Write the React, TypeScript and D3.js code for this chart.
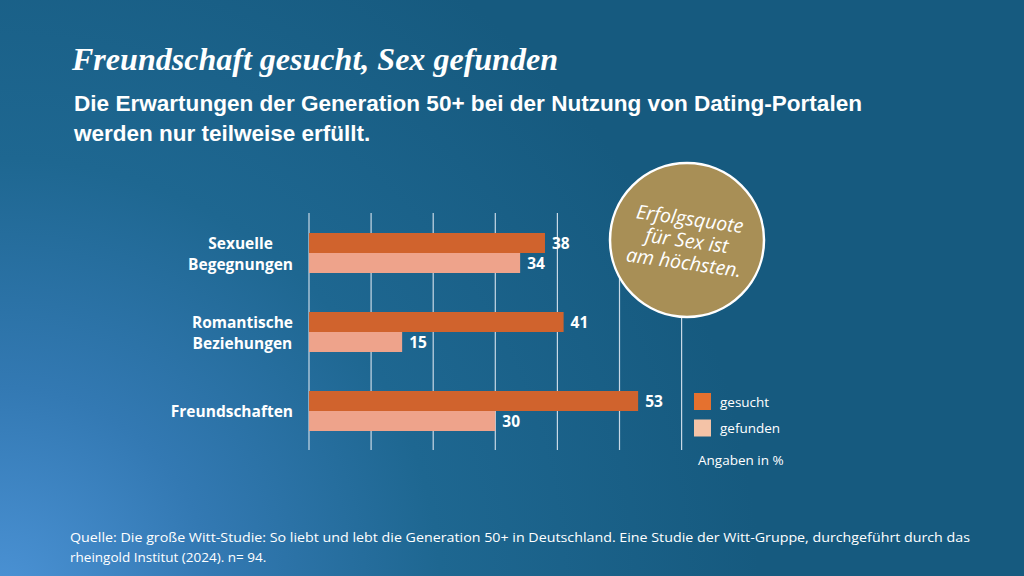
import React, { useEffect, useRef } from "react";
import * as d3 from "d3";

const categories = [["Sexuelle", "Begegnungen"], ["Romantische", "Beziehungen"], ["Freundschaften"]];
const categoryKeys = ["Sexuelle Begegnungen", "Romantische Beziehungen", "Freundschaften"];
const seriesNames = ["gesucht", "gefunden"];
const gesucht = [38, 41, 53];
const gefunden = [34, 15, 30];
const gridTicks = [0, 10, 20, 30, 40, 50, 60];
const title = "Freundschaft gesucht, Sex gefunden";
const subtitleLines = [
  "Die Erwartungen der Generation 50+ bei der Nutzung von Dating-Portalen",
  "werden nur teilweise erfüllt.",
];
const bubbleLines = ["Erfolgsquote", "für Sex ist", "am höchsten."];
const unitNote = "Angaben in %";
const sourceLines = [
  "Quelle: Die große Witt-Studie: So liebt und lebt die Generation 50+ in Deutschland.  Eine Studie der Witt-Gruppe, durchgeführt durch das",
  "rheingold Institut (2024). n= 94.",
];

const COL_GESUCHT = "#D0632D";
const COL_GEFUNDEN = "#EEA38B";
const LEG_GESUCHT = "#E5712F";
const LEG_GEFUNDEN = "#F4C3A7";
const SANS = "'Open Sans', 'Noto Sans', sans-serif";

export default function App() {
  const ref = useRef<SVGSVGElement | null>(null);

  useEffect(() => {
    const svg = d3.select(ref.current);
    svg.selectAll("*").remove();
    const W = 1024, H = 576;

    const defs = svg.append("defs");
    const rg = defs.append("radialGradient").attr("id", "bg").attr("gradientUnits", "userSpaceOnUse")
      .attr("cx", 0).attr("cy", 600).attr("r", 760);
    [[0, "#4C93D6"], [0.28, "#3379B3"], [0.58, "#1E6791"], [1, "#165A7F"]].forEach(([o, c]) =>
      rg.append("stop").attr("offset", o as number).attr("stop-color", c as string));
    svg.append("rect").attr("width", W).attr("height", H).attr("fill", "url(#bg)");

    // Title & subtitle
    svg.append("text").attr("x", 72).attr("y", 70).text(title)
      .attr("fill", "#fff").attr("font-family", "'Liberation Serif', 'DejaVu Serif', serif")
      .attr("font-weight", 700).attr("font-style", "italic").attr("font-size", 31.5)
      .attr("textLength", 486).attr("lengthAdjust", "spacingAndGlyphs");
    subtitleLines.forEach((l, i) => {
      const t = svg.append("text").attr("x", 74).attr("y", 111 + i * 30).text(l)
        .attr("fill", "#fff").attr("font-family", "'Liberation Sans', Arial, sans-serif")
        .attr("font-weight", 700).attr("font-size", 22.5);
      if (i === 0) t.attr("textLength", 788).attr("lengthAdjust", "spacingAndGlyphs");
    });

    const x = d3.scaleLinear().domain([0, 60]).range([309, 681.6]);
    const y = d3.scaleBand<string>().domain(categoryKeys).range([213.5, 450.5]).padding(0);
    const sub = d3.scaleBand<string>().domain(seriesNames).range([0, 40]).padding(0);

    // Gridlines
    svg.append("g").selectAll("line").data(gridTicks).join("line")
      .attr("x1", (d) => x(d)).attr("x2", (d) => x(d))
      .attr("y1", 213).attr("y2", 450)
      .attr("stroke", "#C9D9E6").attr("stroke-width", 1.2);

    const data = categoryKeys.map((k, i) => ({ key: k, lines: categories[i], vals: [gesucht[i], gefunden[i]] }));
    const colors = [COL_GESUCHT, COL_GEFUNDEN];

    const g = svg.append("g");
    data.forEach((d) => {
      const top = (y(d.key) as number) + y.bandwidth() / 2 - 20;
      seriesNames.forEach((s, j) => {
        const by = top + (sub(s) as number);
        g.append("rect").attr("x", x(0)).attr("y", by)
          .attr("width", x(d.vals[j]) - x(0)).attr("height", sub.bandwidth())
          .attr("fill", colors[j]);
        g.append("text").attr("x", x(d.vals[j]) + 7).attr("y", by + sub.bandwidth() / 2)
          .attr("dominant-baseline", "central").text(String(d.vals[j]))
          .attr("fill", "#fff").attr("font-family", SANS).attr("font-weight", 700).attr("font-size", 15.5);
      });
      // Category labels
      const cy = (y(d.key) as number) + y.bandwidth() / 2;
      const lg = svg.append("g");
      const n = d.lines.length;
      const texts = d.lines.map((l, i) =>
        lg.append("text").attr("y", cy + (i - (n - 1) / 2) * 21).attr("dominant-baseline", "central")
          .text(l).attr("fill", "#fff").attr("font-family", SANS).attr("font-weight", 700)
          .attr("font-size", 15.5).attr("text-anchor", "middle"));
      const maxW = Math.max(...texts.map((t) => (t.node() as SVGTextElement).getComputedTextLength()));
      texts.forEach((t) => t.attr("x", 293 - maxW / 2));
    });

    // Bubble
    const bx = 687, by0 = 240;
    svg.append("circle").attr("cx", bx).attr("cy", by0).attr("r", 77)
      .attr("fill", "#A88F56").attr("stroke", "#fff").attr("stroke-width", 2.5);
    const bt = svg.append("g").attr("transform", `translate(${bx},${by0}) rotate(8)`);
    bubbleLines.forEach((l, i) =>
      bt.append("text").attr("x", 0).attr("y", (i - 1) * 22).attr("dominant-baseline", "central")
        .attr("text-anchor", "middle").text(l).attr("fill", "#fff").attr("font-family", SANS)
        .attr("font-style", "italic").attr("font-size", 19.5));

    // Legend
    const legCols = [LEG_GESUCHT, LEG_GEFUNDEN];
    seriesNames.forEach((s, i) => {
      svg.append("rect").attr("x", 694).attr("y", 393 + i * 26.5).attr("width", 17).attr("height", 17)
        .attr("fill", legCols[i]);
      svg.append("text").attr("x", 720).attr("y", 401.5 + i * 26.5).attr("dominant-baseline", "central")
        .text(s).attr("fill", "#fff").attr("font-family", SANS).attr("font-size", 13.5);
    });
    svg.append("text").attr("x", 698).attr("y", 465).text(unitNote)
      .attr("fill", "#fff").attr("font-family", SANS).attr("font-size", 13.5);

    // Source
    sourceLines.forEach((l, i) => {
      const t = svg.append("text").attr("x", 70).attr("y", 542 + i * 20).text(l)
        .attr("fill", "#fff").attr("font-family", SANS).attr("font-size", 13.5);
      if (i === 0) t.attr("textLength", 900).attr("lengthAdjust", "spacingAndGlyphs");
    });
  }, []);

  return (
    <svg ref={ref} width={1024} height={576}
      style={{ position: "absolute", left: 0, top: 0, display: "block" }} />
  );
}
